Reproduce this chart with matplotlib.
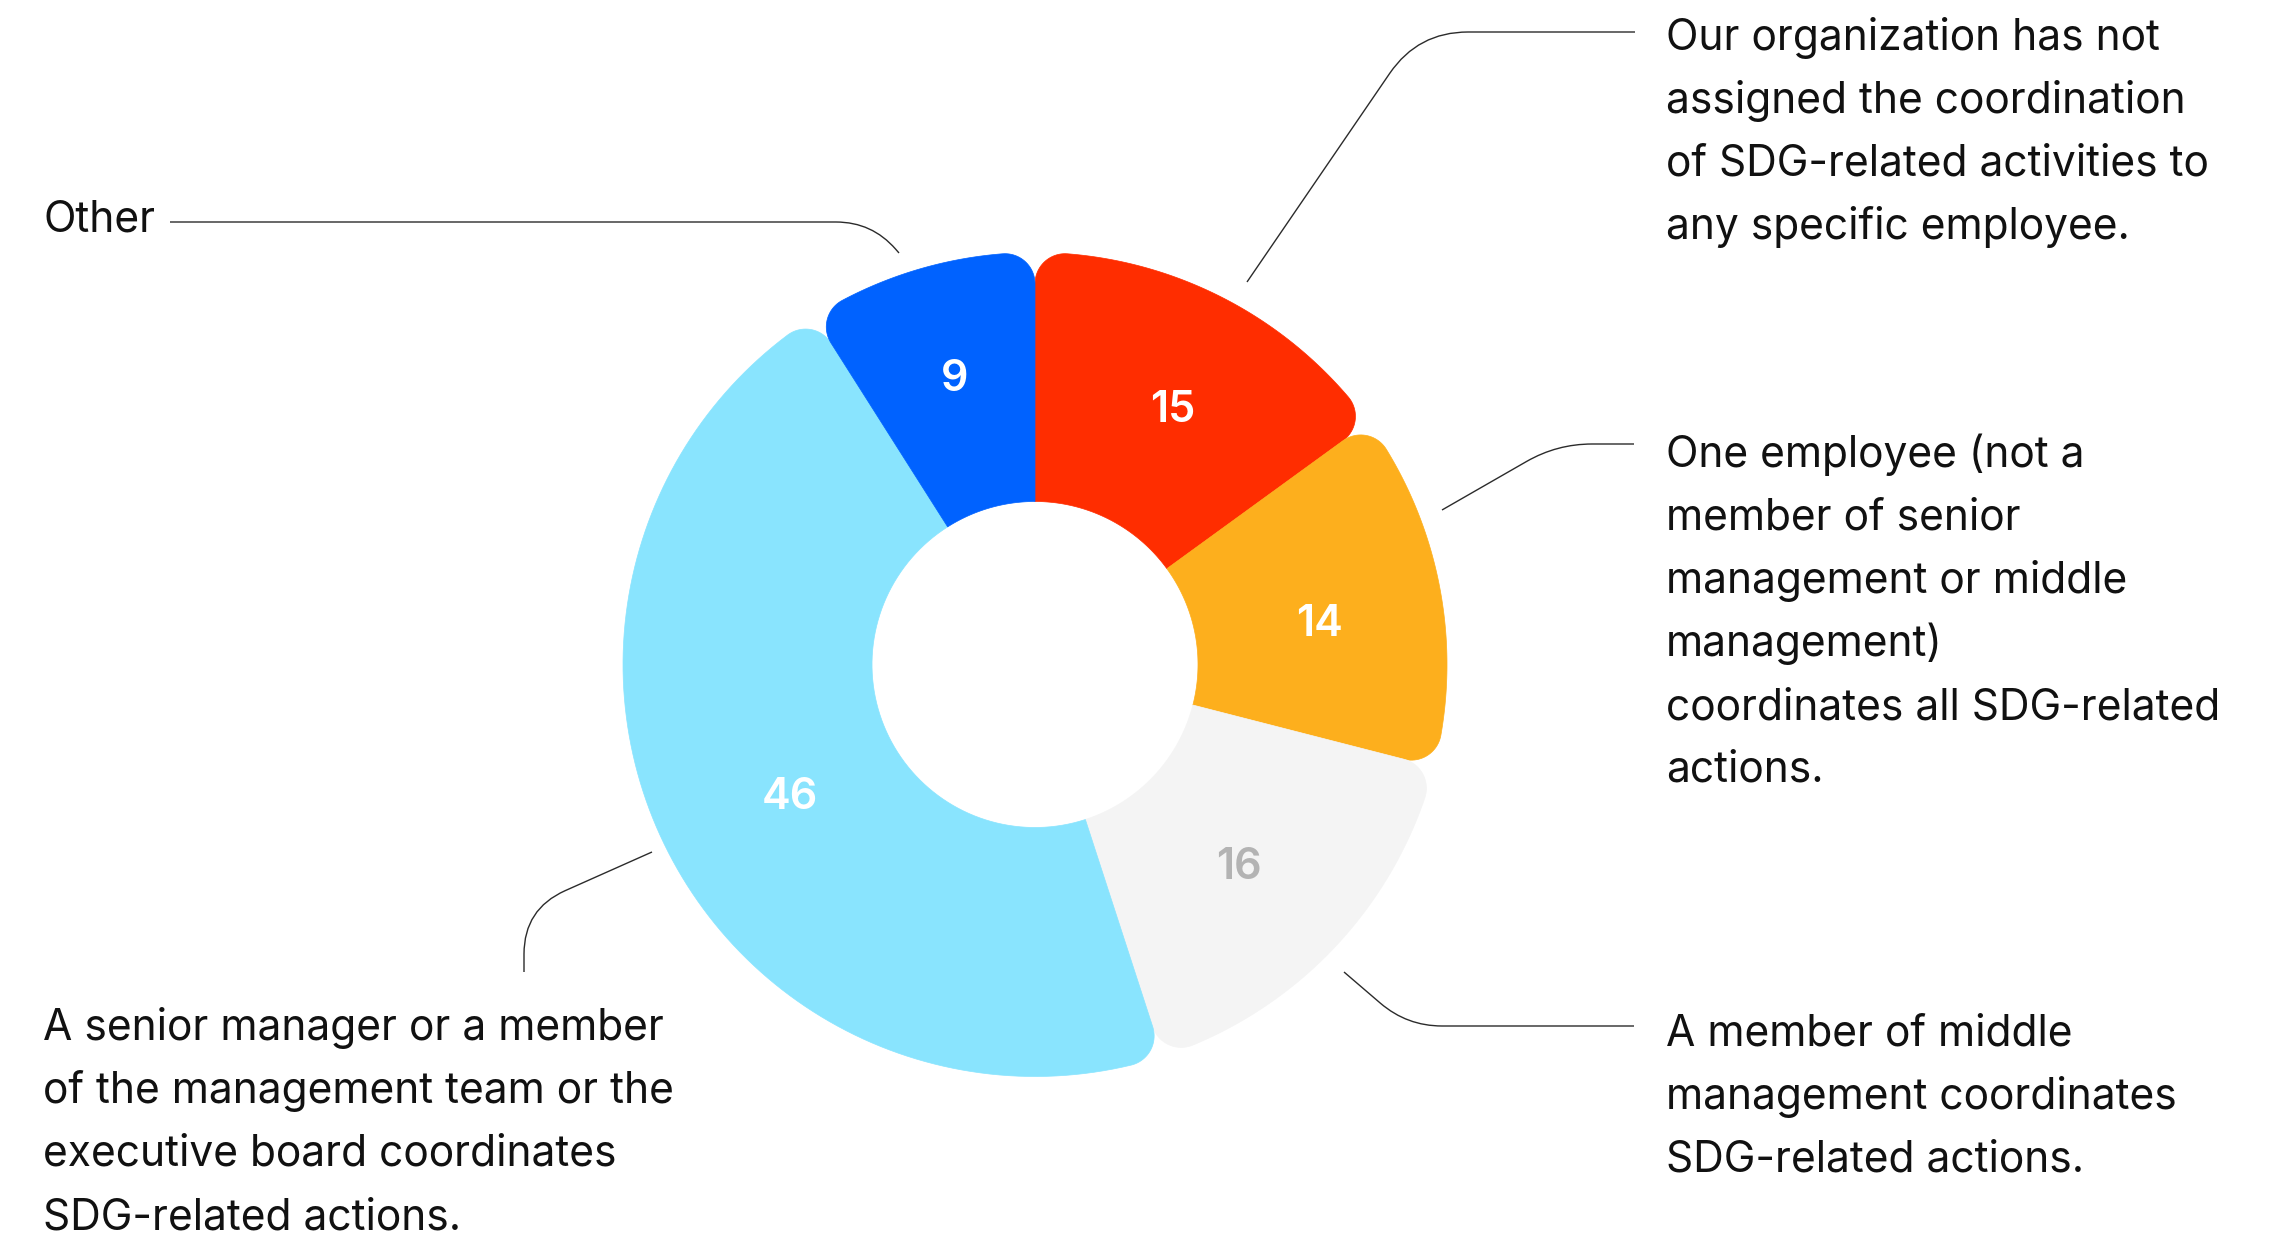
import math
import numpy as np
import matplotlib
matplotlib.use('Agg')
import matplotlib.pyplot as plt
from matplotlib.patches import Polygon, PathPatch
from matplotlib.path import Path

plt.rcParams['font.family'] = ['Inter', 'DejaVu Sans']

# slice values, clockwise from 12 o'clock
values = [15, 14, 16, 46, 9]
colors = ['#ff2d00', '#fdaf1d', '#f4f4f4', '#89e4fe', '#0062ff']
value_colors = ['white', 'white', '#b3b3b3', 'white', 'white']

desc_red = ['Our organization has not', 'assigned the coordination',
            'of SDG-related activities to', 'any specific employee.']
desc_orange = ['One employee (not a', 'member of senior', 'management or middle',
               'management)', 'coordinates all SDG-related', 'actions.']
desc_grey = ['A member of middle', 'management coordinates', 'SDG-related actions.']
desc_lightblue = ['A senior manager or a member', 'of the management team or the',
                  'executive board coordinates', 'SDG-related actions.']
desc_other = ['Other']

# layout (pixels, y down)
CX, CY = 1035, 664.5
R_OUT, R_IN, CORNER = 412, 163, 30
LINE_H = 63
# small (radius, angle) nudges for the value labels, like the original layout
label_dr = [5, 0, -3, -11, 13]
label_da = [1.0, 1.9, 1.0, -2.5, 0.6]


def pt(r, a):
    '''a in degrees, clockwise from top'''
    t = math.radians(a)
    return (CX + r * math.sin(t), CY - r * math.cos(t))


def arc_between(c, p, q, n=24):
    a0 = math.atan2(p[1] - c[1], p[0] - c[0])
    a1 = math.atan2(q[1] - c[1], q[0] - c[0])
    d = (a1 - a0 + math.pi) % (2 * math.pi) - math.pi
    r = math.hypot(p[0] - c[0], p[1] - c[1])
    return [(c[0] + r * math.cos(a0 + d * s), c[1] + r * math.sin(a0 + d * s))
            for s in np.linspace(0, 1, n)]


def sector(a1, a2):
    '''annular sector with rounded outer corners'''
    phi = math.degrees(math.asin(CORNER / (R_OUT - CORNER)))
    d = math.sqrt((R_OUT - CORNER) ** 2 - CORNER ** 2)
    pts = [pt(R_IN, a1)]
    pts += arc_between(pt(R_OUT - CORNER, a1 + phi), pt(d, a1), pt(R_OUT, a1 + phi))
    pts += [pt(R_OUT, a) for a in np.linspace(a1 + phi, a2 - phi, 120)]
    pts += arc_between(pt(R_OUT - CORNER, a2 - phi), pt(R_OUT, a2 - phi), pt(d, a2))
    pts += [pt(R_IN, a) for a in np.linspace(a2, a1, 80)]
    return pts


def leader(ax, start, corner, end, rr):
    def toward(p, q, dist):
        L = math.hypot(q[0] - p[0], q[1] - p[1])
        return (p[0] + (q[0] - p[0]) * dist / L, p[1] + (q[1] - p[1]) * dist / L)
    pa = toward(corner, start, rr)
    pb = toward(corner, end, rr)
    path = Path([start, pa, corner, pb, end],
                [Path.MOVETO, Path.LINETO, Path.CURVE3, Path.CURVE3, Path.LINETO])
    ax.add_patch(PathPatch(path, fill=False, edgecolor='#2b2b2b', lw=1.0))


def block(ax, x, y0, lines):
    for i, s in enumerate(lines):
        ax.text(x, y0 + i * LINE_H, s, fontsize=30.6, color='#111111',
                ha='left', va='baseline')


fig = plt.figure(figsize=(22.8, 12.36), dpi=100)
ax = fig.add_axes([0, 0, 1, 1])
ax.set_xlim(0, 2280)
ax.set_ylim(1236, 0)
ax.axis('off')

total = float(sum(values))
start = 0.0
for i, (v, c, tc) in enumerate(zip(values, colors, value_colors)):
    span = 360.0 * v / total
    ax.add_patch(Polygon(sector(start, start + span), closed=True,
                         facecolor=c, edgecolor=c, lw=0.5))
    lx, ly = pt((R_OUT + R_IN) / 2 + label_dr[i], start + span / 2 + label_da[i])
    # baseline sits half a cap height below the label centre
    ax.text(lx, ly + 16, str(v), fontsize=31, fontweight='semibold', color=tc,
            ha='center', va='baseline')
    start += span

# leader lines
leader(ax, (1247, 282), (1418, 32), (1635, 32), 50)
leader(ax, (1442, 510), (1557, 444), (1634, 444), 35)
leader(ax, (1344, 972), (1407, 1026), (1634, 1026), 35)
leader(ax, (652, 852), (524, 909), (524, 972), 45)
leader(ax, (899, 253), (872, 222), (170, 222), 36)

# descriptions
block(ax, 1666, 50, desc_red)
block(ax, 1666, 467, desc_orange)
block(ax, 1666, 1046, desc_grey)
block(ax, 43, 1040, desc_lightblue)
block(ax, 43, 232, desc_other)

fig.savefig('out.png', dpi=100)
